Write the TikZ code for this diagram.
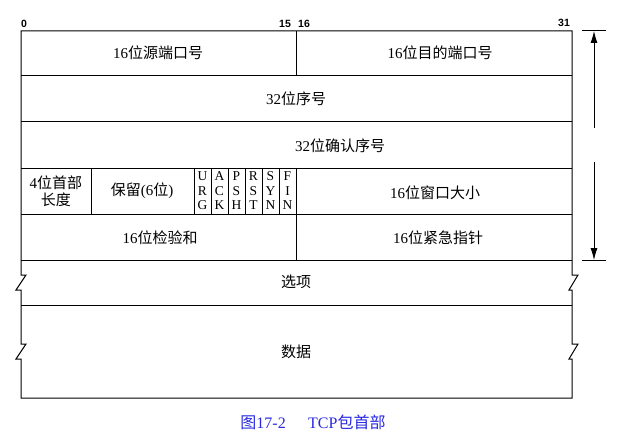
\documentclass[tikz,border=0pt]{standalone}
\usepackage{fontspec}
\setmainfont{Liberation Serif}
\newfontfamily\cjk{Noto Sans CJK SC}
\newfontfamily\numfont{Liberation Sans}
\usetikzlibrary{arrows.meta}
\definecolor{capblue}{RGB}{40,40,225}
\begin{document}
\begin{tikzpicture}[x=1pt,y=-1pt,line width=1pt,
  lbl/.style={font=\fontsize{15}{17}\selectfont,inner sep=0pt,align=center},
  flagtxt/.style={font=\fontsize{13.5}{14.5}\selectfont,inner sep=0pt,align=center},
  num/.style={font=\numfont\bfseries\fontsize{10.5}{11}\selectfont,inner sep=0pt},
  captxt/.style={font=\fontsize{16}{18}\selectfont,text=capblue,inner sep=0pt},
  dimarrow/.style={-{Latex[length=12pt,width=7pt]},line width=0.8pt},
  grid/.style={line width=1pt}]
\useasboundingbox (0,0) rectangle (622,444);

% outer border with break marks
\draw[grid] (21,31) -- (21,275) -- (26,275) -- (16,290) -- (21,290)
  -- (21,344) -- (26,344) -- (16,359) -- (21,359) -- (21,398)
  -- (572,398) -- (572,359) -- (569,359) -- (578,344) -- (572,344)
  -- (572,290) -- (569,290) -- (578,275) -- (572,275) -- (572,31) -- cycle;

% row separators
\foreach \yy in {76,122,168,214,260,305}
  \draw[grid] (21,\yy) -- (572,\yy);

% column separators
\draw[grid] (296,31) -- (296,76);
\foreach \xx in {91,194,211,228,245,262,279,296}
  \draw[grid] (\xx,168) -- (\xx,214);
\draw[grid] (296,214) -- (296,260);

% bit numbers
\node[num] (b0) at (24,24) {0};
\node[num] (b15) at (285,24) {15};
\node[num] (b16) at (304,24) {16};
\node[num] (b31) at (564,23) {31};

% field labels
\node[lbl] (srcport) at (158,53) {16{\cjk 位源端口号}};
\node[lbl] (dstport) at (440,53) {16{\cjk 位目的端口号}};
\node[lbl] (seq) at (296,99) {32{\cjk 位序号}};
\node[lbl] (ack) at (340,146) {32{\cjk 位确认序号}};
\node[lbl] (hlen) at (56,191) {4{\cjk 位首部}\\{\cjk 长度}};
\node[lbl] (resv) at (142,191) {{\cjk 保留}(6{\cjk 位})};
\node[flagtxt] (urg) at (202.5,191) {U\\R\\G};
\node[flagtxt] (ackf) at (219.5,191) {A\\C\\K};
\node[flagtxt] (psh) at (236.5,191) {P\\S\\H};
\node[flagtxt] (rst) at (253.5,191) {R\\S\\T};
\node[flagtxt] (syn) at (270.5,191) {S\\Y\\N};
\node[flagtxt] (fin) at (287.5,191) {F\\I\\N};
\node[lbl] (win) at (435,193) {16{\cjk 位窗口大小}};
\node[lbl] (csum) at (160,238) {16{\cjk 位检验和}};
\node[lbl] (urgp) at (438,238) {16{\cjk 位紧急指针}};
\node[lbl] (opts) at (296,282) {{\cjk 选项}};
\node[lbl] (data) at (296,352) {{\cjk 数据}};

% dimension arrow
\coordinate (dtop) at (594,31);
\coordinate (dbot) at (594,260);
\coordinate (dmid1) at (594,128);
\coordinate (dmid2) at (594,162);
\draw[line width=1pt] ([xshift=-12pt]dtop) -- ([xshift=12pt]dtop);
\draw[line width=1pt] ([xshift=-12pt]dbot) -- ([xshift=12pt]dbot);
\draw[dimarrow] (dmid1) -- (dtop);
\draw[dimarrow] (dmid2) -- (dbot);

% caption
\node[captxt] (caption) at (313,422) {{\cjk 图}17-2\hspace{1.4em}TCP{\cjk 包首部}};
\end{tikzpicture}
\end{document}
